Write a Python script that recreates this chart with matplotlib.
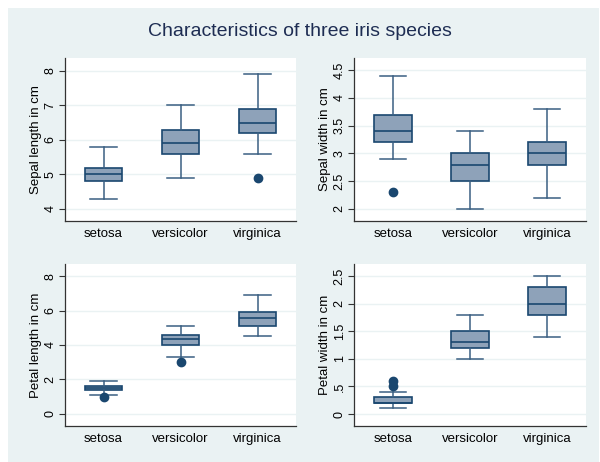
import numpy as np
import matplotlib
matplotlib.use('Agg')
import matplotlib.pyplot as plt
from matplotlib.patches import Rectangle

plt.rcParams['font.family'] = ['Liberation Sans', 'DejaVu Sans']

species = ['setosa', 'versicolor', 'virginica']

# five-number summaries: low whisker, q1, median, q3, high whisker
sepal_length = [[4.3, 4.8, 5.0, 5.2, 5.8],
                [4.9, 5.6, 5.9, 6.3, 7.0],
                [5.6, 6.2, 6.5, 6.9, 7.9]]
sepal_length_out = [[], [], [4.9]]

sepal_width = [[2.9, 3.2, 3.4, 3.7, 4.4],
               [2.0, 2.5, 2.8, 3.0, 3.4],
               [2.2, 2.8, 3.0, 3.2, 3.8]]
sepal_width_out = [[2.3], [], []]

petal_length = [[1.1, 1.4, 1.5, 1.6, 1.9],
                [3.3, 4.0, 4.35, 4.6, 5.1],
                [4.5, 5.1, 5.55, 5.9, 6.9]]
petal_length_out = [[1.0], [3.0], []]

petal_width = [[0.1, 0.2, 0.2, 0.3, 0.4],
               [1.0, 1.2, 1.3, 1.5, 1.8],
               [1.4, 1.8, 2.0, 2.3, 2.5]]
petal_width_out = [[0.5, 0.6], [], []]

panels = [
    (sepal_length, sepal_length_out, 'Sepal length in cm', [4, 5, 6, 7, 8], ['4', '5', '6', '7', '8'], (3.65, 8.377)),
    (sepal_width, sepal_width_out, 'Sepal width in cm', [2, 2.5, 3, 3.5, 4, 4.5], ['2', '2.5', '3', '3.5', '4', '4.5'], (1.783, 4.717)),
    (petal_length, petal_length_out, 'Petal length in cm', [0, 2, 4, 6, 8], ['0', '2', '4', '6', '8'], (-0.70, 8.70)),
    (petal_width, petal_width_out, 'Petal width in cm', [0, .5, 1, 1.5, 2, 2.5], ['0', '.5', '1', '1.5', '2', '2.5'], (-0.217, 2.717)),
]

W, H = 600, 462
navy = '#1a476f'
boxfill = '#8ea2b9'
bg = '#eaf2f3'

fig = plt.figure(figsize=(6, 4.62), dpi=100, facecolor='white')
fig.patches.append(Rectangle((8 / W, 0), (W - 9) / W, (H - 8) / H,
                             transform=fig.transFigure, facecolor=bg,
                             edgecolor='none', zorder=-10))

fig.text(0.5, 1 - 31 / H, 'Characteristics of three iris species',
         ha='center', va='center', fontsize=14, color='#1e2d53')

# pixel boxes of the four plot regions: left, top, right, bottom
boxes = [(65, 58, 296, 221), (354, 58, 586, 221),
         (65, 264, 296, 426), (354, 264, 586, 426)]

for (stats5, outl, ylab, yt, ytl, ylim), (l, t, r, b) in zip(panels, boxes):
    ax = fig.add_axes([l / W, 1 - b / H, (r - l) / W, (b - t) / H])
    ax.set_facecolor('white')
    stats = []
    for s, o, name in zip(stats5, outl, species):
        stats.append({'whislo': s[0], 'q1': s[1], 'med': s[2], 'q3': s[3],
                      'whishi': s[4], 'fliers': o, 'label': name})
    ax.bxp(stats, positions=[1, 2, 3], widths=0.49, capwidths=0.34,
           patch_artist=True, showfliers=True,
           boxprops=dict(facecolor=boxfill, edgecolor=navy, linewidth=1.2),
           medianprops=dict(color=navy, linewidth=1.2),
           whiskerprops=dict(color='#3a5f82', linewidth=1.1),
           capprops=dict(color='#3a5f82', linewidth=1.1),
           flierprops=dict(marker='o', markerfacecolor=navy, markeredgecolor=navy,
                           markersize=6, linestyle='none'))
    ax.set_xlim(0.5, 3.5)
    ax.set_ylim(*ylim)
    ax.set_yticks(yt)
    ax.set_yticklabels(ytl, rotation=90, va='center', fontsize=9)
    ax.yaxis.grid(True, color=bg, linewidth=1)
    ax.set_axisbelow(True)
    ax.tick_params(axis='y', length=4, width=0.8, color='#333333', pad=2)
    ax.tick_params(axis='x', length=0, labelsize=9.5, pad=5)
    ax.set_ylabel(ylab, fontsize=9.5, labelpad=2)
    for sp in ['top', 'right']:
        ax.spines[sp].set_visible(False)
    for sp in ['left', 'bottom']:
        ax.spines[sp].set_color('#333333')
        ax.spines[sp].set_linewidth(0.9)

fig.savefig('out.png', dpi=100, facecolor=fig.get_facecolor())
